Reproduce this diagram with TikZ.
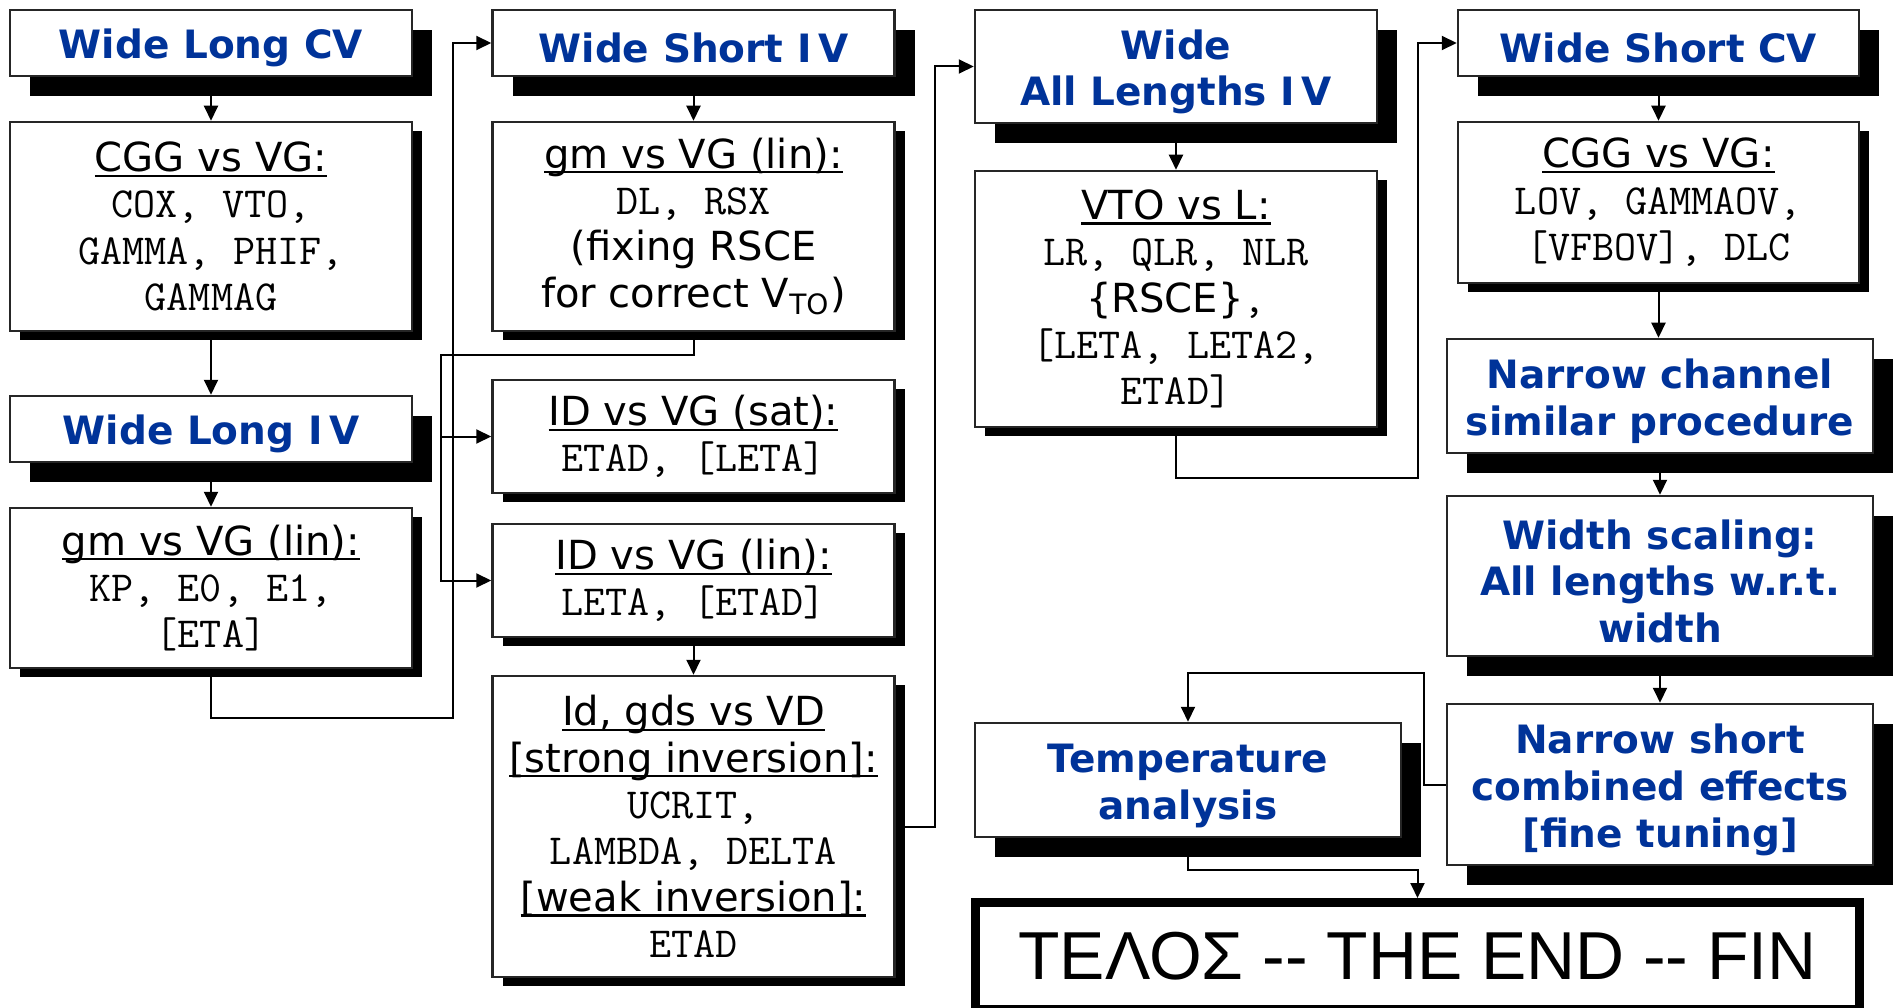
\documentclass[tikz,border=0pt]{standalone}
\usepackage{fontspec}
\setmainfont{DejaVu Sans}
\newfontfamily\endfont{Liberation Sans}
\usetikzlibrary{arrows.meta,shadows}
\definecolor{hdblue}{RGB}{0,51,153}
\newsavebox\ulbox
\newcommand{\undl}[1]{\sbox\ulbox{#1}\rlap{\rule[-1.5pt]{\wd\ulbox}{0.6pt}}\usebox\ulbox}
\newcommand{\prm}[1]{{\ttfamily\fontsize{12.2}{13.2}\selectfont #1}}
\newcommand{\hstrut}{\rule{0pt}{11.5pt}}

\begin{document}
\begin{tikzpicture}[x=1mm,y=1mm,>={Triangle[length=1.5mm,width=1.4mm]}]
\path[use as bounding box] (0,0) rectangle (189.4,100.7);
\tikzstyle{headbox}=[draw=black!85, fill=white, line width=0.25mm, inner sep=0pt, minimum width=40.2mm, align=center, text=hdblue, font=\fontsize{11.1}{13.3}\selectfont\bfseries, execute at begin node={\hstrut}, drop shadow={shadow xshift=2mm, shadow yshift=-2mm, opacity=1, fill=black}]
\tikzstyle{databox}=[draw=black!85, fill=white, line width=0.25mm, inner sep=0pt, minimum width=40.2mm, align=center, font=\fontsize{11.4}{13.2}\selectfont, drop shadow={shadow xshift=1mm, shadow yshift=-0.9mm, opacity=1, fill=black}]
\tikzstyle{link}=[->, line width=0.2mm]

\node[headbox, minimum height=6.6mm] (wlcv) at (21.1,96.4) {Wide Long CV};
\node[databox, minimum height=20.9mm] (cggwl) at (21.1,78.05) {\undl{CGG vs VG:}\\ \prm{COX, VTO,}\\ \prm{GAMMA, PHIF,}\\ \prm{GAMMAG}};
\node[headbox, minimum height=6.6mm] (wliv) at (21.1,57.8) {Wide Long I\,V};
\node[databox, minimum height=16mm] (gmwl) at (21.1,41.9) {\undl{gm vs VG (lin):}\\ \prm{KP, E0, E1,}\\ \prm{[ETA]}};

\node[headbox, minimum height=6.6mm] (wsiv) at (69.35,96.4) {Wide Short I\,V};
\node[databox, minimum height=20.9mm] (gmws) at (69.35,78.05) {\undl{gm vs VG (lin):}\\ \prm{DL, RSX}\\ (fixing RSCE\\ for correct V\textsubscript{TO})};
\node[databox, minimum height=11.3mm] (idsat) at (69.35,57.05) {\undl{ID vs VG (sat):}\\ \prm{ETAD, [LETA]}};
\node[databox, minimum height=11.3mm] (idlin) at (69.35,42.65) {\undl{ID vs VG (lin):}\\ \prm{LETA, [ETAD]}};
\node[databox, minimum height=30.1mm] (idvd) at (69.35,18.05) {\undl{Id, gds vs VD}\\ \undl{[strong inversion]:}\\ \prm{UCRIT,}\\ \prm{LAMBDA, DELTA}\\ \undl{[weak inversion]:}\\ \prm{ETAD}};

\node[headbox, minimum height=11.3mm] (wal) at (117.6,94.05) {\hstrut Wide\\ All Lengths I\,V};
\node[databox, minimum height=25.6mm] (vtol) at (117.6,70.8) {\undl{VTO vs L:}\\ \prm{LR, QLR, NLR}\\ \{RSCE\}\prm{,}\\ \prm{[LETA, LETA2,}\\ \prm{ETAD]}};
\node[headbox, minimum width=42.6mm, minimum height=11.4mm] (temp) at (118.8,22.7) {\hstrut Temperature\\ analysis};

\node[headbox, minimum width=40.1mm, minimum height=6.6mm] (wscv) at (165.85,96.4) {Wide Short CV};
\node[databox, minimum width=40.1mm, minimum height=16.1mm] (cggws) at (165.85,80.45) {\undl{CGG vs VG:}\\ \prm{LOV, GAMMAOV,}\\ \prm{[VFBOV], DLC}};
\node[headbox, minimum width=42.6mm, minimum height=11.4mm] (narch) at (166,61.1) {\hstrut Narrow channel\\ similar procedure};
\node[headbox, minimum width=42.6mm, minimum height=16mm] (wscal) at (166,43.1) {\hstrut Width scaling:\\ All lengths w.r.t.\\ width};
\node[headbox, minimum width=42.6mm, minimum height=16.1mm] (nshort) at (166,22.25) {\hstrut Narrow short\\ combined effects\\ {[fine tuning]}};

\node[draw=black, line width=0.9mm, inner sep=0pt, minimum width=88.4mm, minimum height=10.7mm, font=\endfont\fontsize{19.3}{23}\selectfont] (fin) at (141.75,5.1) {ΤΕΛΟΣ -{}- THE END -{}- FIN};

\coordinate (c1) at (45.3,28.9);
\coordinate (c2) at (44.1,65.2);
\coordinate (c3) at (93.5,18.05);
\coordinate (c4) at (141.8,52.9);
\coordinate (c5) at (142.4,33.4);
\coordinate (c6) at (141.75,13.7);

\draw[link] (wlcv.south) -- (cggwl.north);
\draw[link] (cggwl.south) -- (wliv.north);
\draw[link] (wliv.south) -- (gmwl.north);
\draw[link] (gmwl.south) |- (c1) |- (wsiv.west);

\draw[link] (wsiv.south) -- (gmws.north);
\draw[link] (gmws.south) |- (c2) |- (idsat.west);
\draw[link] (c2) |- (idlin.west);
\draw[link] (idlin.south) -- (idvd.north);
\draw[link] (idvd.east) -- (c3) |- (wal.west);

\draw[link] (wal.south) -- (vtol.north);
\draw[link] (vtol.south) |- (c4) |- (wscv.west);

\draw[link] (wscv.south) -- (cggws.north);
\draw[link] (cggws.south) -- (cggws.south |- narch.north);
\draw[link] (narch.south) -- (wscal.north);
\draw[link] (wscal.south) -- (nshort.north);
\draw[link] (nshort.west) -| (c5) -| (temp.north);
\draw[link] (temp.south) |- (c6) -- (fin.north);
\end{tikzpicture}
\end{document}
